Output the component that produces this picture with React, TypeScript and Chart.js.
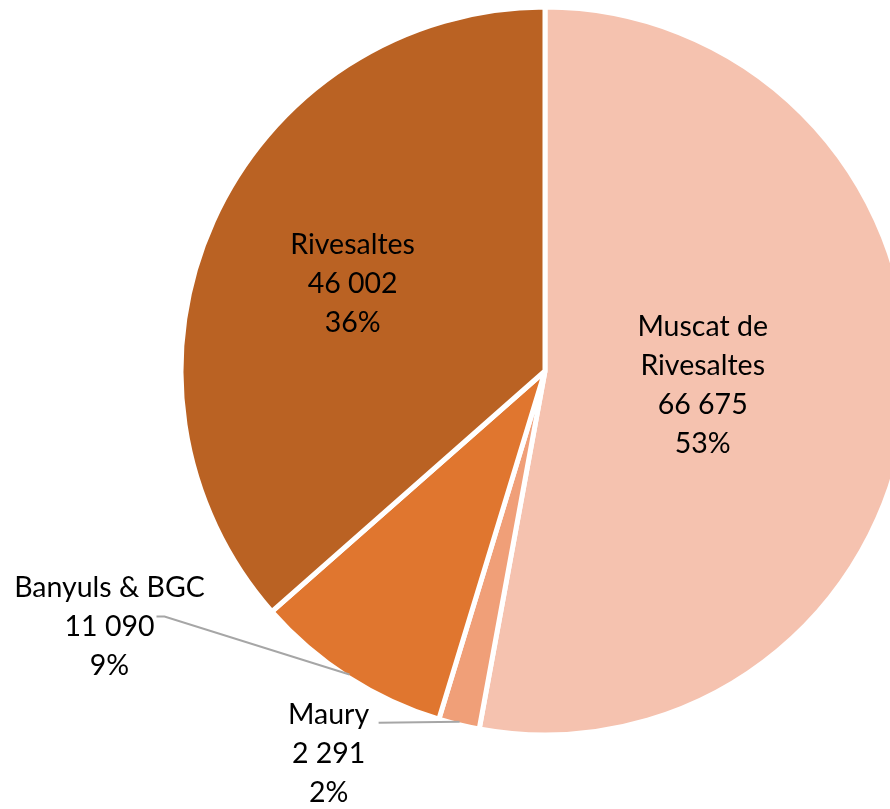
import React, { useEffect, useRef } from "react";
import { Chart, registerables } from "chart.js";

Chart.register(...registerables);

// ---- Data ----
const categories = ["Muscat de Rivesaltes", "Maury", "Banyuls & BGC", "Rivesaltes"];
const categoryLines = [["Muscat de", "Rivesaltes"], ["Maury"], ["Banyuls & BGC"], ["Rivesaltes"]];
const values = [66675, 2291, 11090, 46002];
const sliceColors = ["#F5C2AF", "#F09F78", "#E0762F", "#BA6223"];

// ---- Label placement (styling) ----
type Placement =
  | { mode: "inside"; r: number }
  | { mode: "outside"; dx: number; dy: number; lx: number; ly: number; stub: number };
const labelPlacement: Placement[] = [
  { mode: "inside", r: 0.435 },
  { mode: "outside", dx: -131, dy: 32, lx: 50, ly: -31, stub: 0 },
  { mode: "outside", dx: -240, dy: -48, lx: 47, ly: -10, stub: 8 },
  { mode: "inside", r: 0.58 },
];

const FONT_SIZE = 28.5;
const LINE_H = 39;
const FONT_FAMILY = "Lato";

const fmt = (v: number) => String(v).replace(/\B(?=(\d{3})+(?!\d))/g, " ");

const pieLabels = {
  id: "pieLabels",
  afterDatasetsDraw(chart: any) {
    const ctx = chart.ctx as CanvasRenderingContext2D;
    const meta = chart.getDatasetMeta(0);
    const total = values.reduce((a, b) => a + b, 0);
    ctx.save();
    ctx.font = `${FONT_SIZE}px ${FONT_FAMILY}`;
    ctx.textAlign = "center";
    ctx.textBaseline = "middle";
    meta.data.forEach((arc: any, i: number) => {
      const { x, y, startAngle, endAngle, outerRadius } = arc.getProps(
        ["x", "y", "startAngle", "endAngle", "outerRadius"],
        true
      );
      const mid = (startAngle + endAngle) / 2;
      const cos = Math.cos(mid);
      const sin = Math.sin(mid);
      const pct = Math.round((values[i] / total) * 100);
      const lines = [...categoryLines[i], fmt(values[i]), `${pct}%`];
      const p = labelPlacement[i];
      let cx: number, cy: number;
      if (p.mode === "inside") {
        cx = x + cos * outerRadius * p.r;
        cy = y + sin * outerRadius * p.r;
      } else {
        const ex = x + cos * (outerRadius - 3);
        const ey = y + sin * (outerRadius - 3);
        cx = ex + p.dx;
        cy = ey + p.dy;
        ctx.strokeStyle = "#A6A6A6";
        ctx.lineWidth = 2;
        ctx.beginPath();
        ctx.moveTo(cx + p.lx, cy + p.ly);
        if (p.stub) ctx.lineTo(cx + p.lx + p.stub, cy + p.ly);
        ctx.lineTo(ex, ey);
        ctx.stroke();
      }
      ctx.fillStyle = "#000000";
      const n = lines.length;
      lines.forEach((t, k) => {
        ctx.fillText(t, cx, cy + (k - (n - 1) / 2) * LINE_H);
      });
    });
    ctx.restore();
  },
};

export default function App() {
  const canvasRef = useRef<HTMLCanvasElement | null>(null);

  useEffect(() => {
    let chart: Chart | null = null;
    let cancelled = false;
    const make = () => {
      if (cancelled || !canvasRef.current) return;
      chart = new Chart(canvasRef.current, {
        type: "pie",
        data: {
          labels: categories,
          datasets: [
            {
              data: values,
              backgroundColor: sliceColors,
              borderColor: "#FFFFFF",
              borderWidth: 5,
              radius: 364,
            } as any,
          ],
        },
        options: {
          responsive: false,
          animation: false,
          devicePixelRatio: 1,
          layout: { padding: { top: 7, bottom: 74, left: 0, right: 0 } },
          plugins: {
            legend: { display: false },
            tooltip: { enabled: false },
          },
        },
        plugins: [pieLabels],
      });
    };
    const fonts = (document as any).fonts;
    if (fonts && fonts.load) {
      fonts.load(`${FONT_SIZE}px ${FONT_FAMILY}`).then(make, make);
    } else {
      make();
    }
    return () => {
      cancelled = true;
      if (chart) chart.destroy();
    };
  }, []);

  return (
    <div
      style={{
        position: "fixed",
        left: 0,
        top: 0,
        width: 890,
        height: 809,
        overflow: "hidden",
        background: "#FFFFFF",
      }}
    >
      <canvas ref={canvasRef} width={1090} height={809} style={{ display: "block", width: 1090, height: 809 }} />
    </div>
  );
}
